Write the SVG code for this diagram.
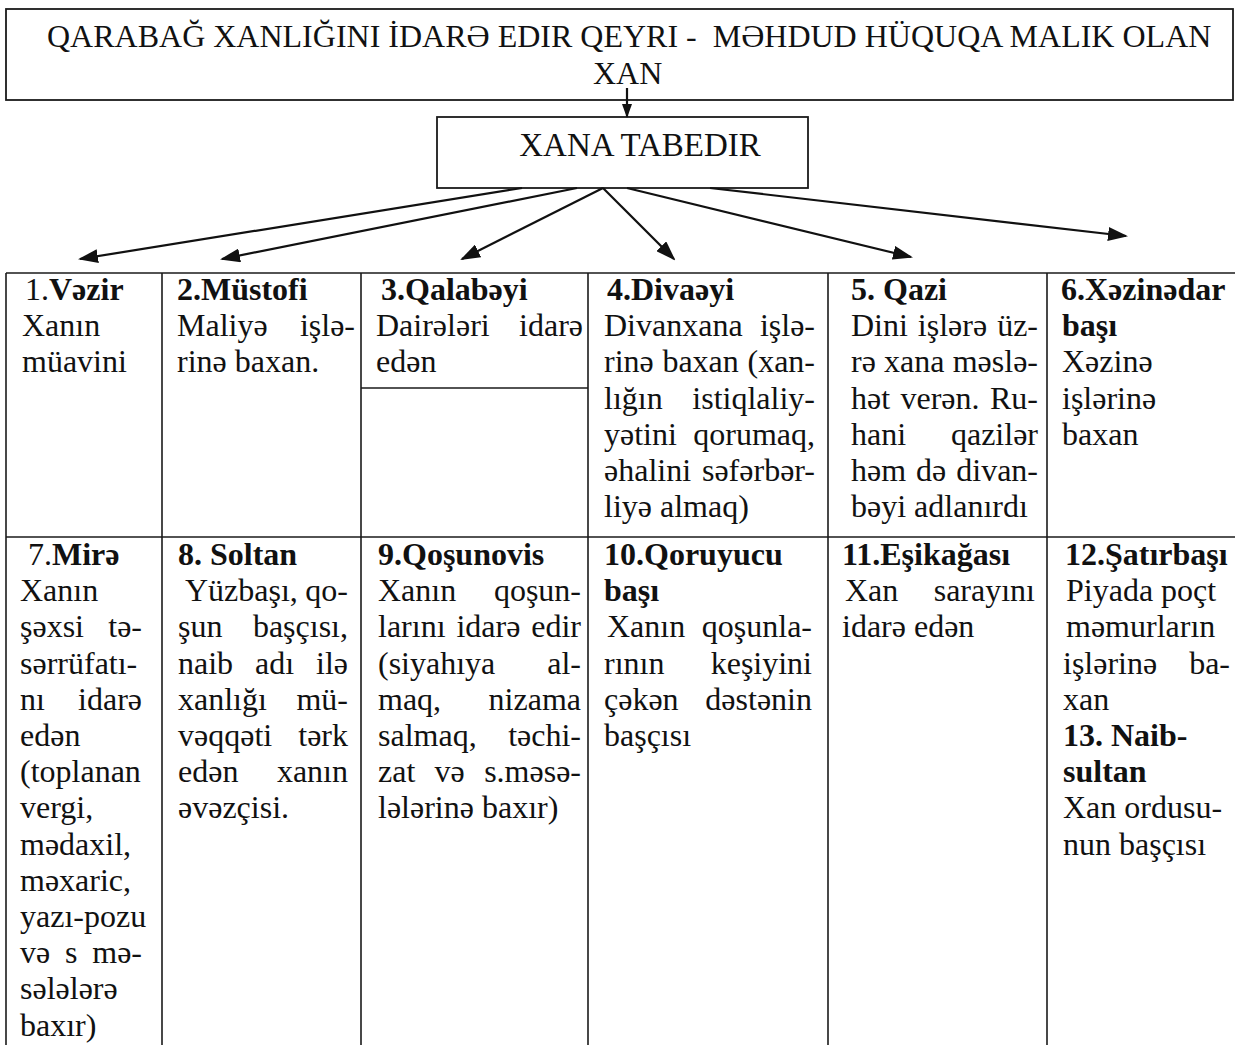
<svg xmlns="http://www.w3.org/2000/svg" width="1235" height="1045" viewBox="0 0 1235 1045">
<style>
.t{font-family:"Liberation Serif","Times New Roman",serif;font-size:32px;fill:#111}
.b{font-weight:bold}
.e{text-anchor:end}
.m{text-anchor:middle}
.ln{stroke:#1a1a1a;stroke-width:1.6;fill:none}
.bx{stroke:#1a1a1a;stroke-width:1.8;fill:#fff}
.cn{stroke:#111;stroke-width:2.2;fill:none}
</style>
<defs>
<marker id="ah" markerWidth="20" markerHeight="14" refX="18" refY="7" orient="auto" markerUnits="userSpaceOnUse"><path d="M0,0 L20,7 L0,14 z" fill="#111"/></marker>
<marker id="ahs" markerWidth="14" markerHeight="10" refX="13" refY="5" orient="auto" markerUnits="userSpaceOnUse"><path d="M0,0 L14,5 L0,10 z" fill="#111"/></marker>
</defs>
<rect width="1235" height="1045" fill="#fff"/>

<g id="title">
<rect class="bx" x="6" y="9" width="1227" height="91"/>
<text class="t" x="47" y="47" xml:space="preserve">QARABAĞ XANLIĞINI İDARƏ EDIR QEYRI -  MƏHDUD HÜQUQA MALIK OLAN</text>
<text class="t" x="593" y="84">XAN</text>
</g>

<g id="xana">
<rect class="bx" x="437" y="117" width="371" height="71"/>
<text class="t m" x="640" y="156" style="font-size:33px">XANA TABEDIR</text>
</g>

<g id="connectors">
<line class="cn" x1="627" y1="88" x2="627" y2="117" marker-end="url(#ahs)"/>
<line class="cn" x1="522" y1="188" x2="80" y2="259" marker-end="url(#ah)"/>
<line class="cn" x1="577" y1="188" x2="222" y2="259" marker-end="url(#ah)"/>
<line class="cn" x1="603" y1="188" x2="462" y2="259" marker-end="url(#ah)"/>
<line class="cn" x1="603" y1="188" x2="674" y2="259" marker-end="url(#ah)"/>
<line class="cn" x1="627" y1="188" x2="911" y2="257" marker-end="url(#ah)"/>
<line class="cn" x1="710" y1="188" x2="1126" y2="236" marker-end="url(#ah)"/>
</g>

<g id="table-grid">
<line class="ln" x1="6" y1="273" x2="1235" y2="273"/>
<line class="ln" x1="6" y1="537" x2="1235" y2="537"/>
<line class="ln" x1="6" y1="273" x2="6" y2="1045"/>
<line class="ln" x1="162" y1="273" x2="162" y2="1045"/>
<line class="ln" x1="361" y1="273" x2="361" y2="1045"/>
<line class="ln" x1="588" y1="273" x2="588" y2="1045"/>
<line class="ln" x1="828" y1="273" x2="828" y2="1045"/>
<line class="ln" x1="1047" y1="273" x2="1047" y2="1045"/>
<line class="ln" x1="361" y1="388" x2="588" y2="388"/>
</g>

<g id="cell-1">
<text class="t" x="25" y="300">1.<tspan class="b">Vəzir</tspan></text>
<text class="t" x="22" y="336.2">Xanın</text>
<text class="t" x="22" y="372.4">müavini</text>
</g>

<g id="cell-2">
<text class="t b" x="177" y="300">2.Müstofi</text>
<text class="t" x="177" y="336.2">Maliyə</text><text class="t e" x="355" y="336.2">işlə-</text>
<text class="t" x="177" y="372.4">rinə baxan.</text>
</g>

<g id="cell-3">
<text class="t b" x="381" y="300">3.Qalabəyi</text>
<text class="t" x="376" y="336.2">Dairələri</text><text class="t e" x="583" y="336.2">idarə</text>
<text class="t" x="376" y="372.4">edən</text>
</g>

<g id="cell-4">
<text class="t b" x="607" y="300">4.Divaəyi</text>
<text class="t" x="604" y="336.2">Divanxana</text><text class="t e" x="815" y="336.2">işlə-</text>
<text class="t" x="604" y="372.4">rinə</text><text class="t m" x="700.6" y="372.4">baxan</text><text class="t e" x="815" y="372.4">(xan-</text>
<text class="t" x="604" y="408.6">lığın</text><text class="t e" x="815" y="408.6">istiqlaliy-</text>
<text class="t" x="604" y="444.8">yətini</text><text class="t e" x="815" y="444.8">qorumaq,</text>
<text class="t" x="604" y="481">əhalini</text><text class="t e" x="815" y="481">səfərbər-</text>
<text class="t" x="604" y="517.2">liyə almaq)</text>
</g>

<g id="cell-5">
<text class="t b" x="851" y="300">5. Qazi</text>
<text class="t" x="851" y="336.2">Dini</text><text class="t m" x="952.5" y="336.2">işlərə</text><text class="t e" x="1038" y="336.2">üz-</text>
<text class="t" x="851" y="372.4">rə</text><text class="t m" x="914.3" y="372.4">xana</text><text class="t e" x="1038" y="372.4">məslə-</text>
<text class="t" x="851" y="408.6">hət</text><text class="t m" x="940" y="408.6">verən.</text><text class="t e" x="1038" y="408.6">Ru-</text>
<text class="t" x="851" y="444.8">hani</text><text class="t e" x="1038" y="444.8">qazilər</text>
<text class="t" x="851" y="481">həm</text><text class="t m" x="931.2" y="481">də</text><text class="t e" x="1038" y="481">divan-</text>
<text class="t" x="851" y="517.2">bəyi adlanırdı</text>
</g>

<g id="cell-6">
<text class="t b" x="1061" y="300">6.Xəzinədar</text>
<text class="t b" x="1062" y="336.2">başı</text>
<text class="t" x="1062" y="372.4">Xəzinə</text>
<text class="t" x="1062" y="408.6">işlərinə</text>
<text class="t" x="1062" y="444.8">baxan</text>
</g>

<g id="cell-7">
<text class="t" x="28" y="565">7.<tspan class="b">Mirə</tspan></text>
<text class="t" x="20" y="601.2">Xanın</text>
<text class="t" x="20" y="637.4">şəxsi</text><text class="t e" x="142" y="637.4">tə-</text>
<text class="t" x="20" y="673.6">sərrüfatı-</text>
<text class="t" x="20" y="709.8">nı</text><text class="t e" x="142" y="709.8">idarə</text>
<text class="t" x="20" y="746">edən</text>
<text class="t" x="20" y="782.2">(toplanan</text>
<text class="t" x="20" y="818.4">vergi,</text>
<text class="t" x="20" y="854.6">mədaxil,</text>
<text class="t" x="20" y="890.8">məxaric,</text>
<text class="t" x="20" y="927">yazı-pozu</text>
<text class="t" x="20" y="963.2">və</text><text class="t m" x="71.2" y="963.2">s</text><text class="t e" x="142" y="963.2">mə-</text>
<text class="t" x="20" y="999.4">sələlərə</text>
<text class="t" x="20" y="1035.6">baxır)</text>
</g>

<g id="cell-8">
<text class="t b" x="178" y="565">8. Soltan</text>
<text class="t" x="185" y="601.2">Yüzbaşı,</text><text class="t e" x="348" y="601.2">qo-</text>
<text class="t" x="178" y="637.4">şun</text><text class="t e" x="348" y="637.4">başçısı,</text>
<text class="t" x="178" y="673.6">naib</text><text class="t m" x="274.6" y="673.6">adı</text><text class="t e" x="348" y="673.6">ilə</text>
<text class="t" x="178" y="709.8">xanlığı</text><text class="t e" x="348" y="709.8">mü-</text>
<text class="t" x="178" y="746">vəqqəti</text><text class="t e" x="348" y="746">tərk</text>
<text class="t" x="178" y="782.2">edən</text><text class="t e" x="348" y="782.2">xanın</text>
<text class="t" x="178" y="818.4">əvəzçisi.</text>
</g>

<g id="cell-9">
<text class="t b" x="378" y="565">9.Qoşunovis</text>
<text class="t" x="378" y="601.2">Xanın</text><text class="t e" x="581" y="601.2">qoşun-</text>
<text class="t" x="378" y="637.4">larını</text><text class="t m" x="488.4" y="637.4">idarə</text><text class="t e" x="581" y="637.4">edir</text>
<text class="t" x="378" y="673.6">(siyahıya</text><text class="t e" x="581" y="673.6">al-</text>
<text class="t" x="378" y="709.8">maq,</text><text class="t e" x="581" y="709.8">nizama</text>
<text class="t" x="378" y="746">salmaq,</text><text class="t e" x="581" y="746">təchi-</text>
<text class="t" x="378" y="782.2">zat</text><text class="t m" x="449.7" y="782.2">və</text><text class="t e" x="581" y="782.2">s.məsə-</text>
<text class="t" x="378" y="818.4">lələrinə baxır)</text>
</g>

<g id="cell-10">
<text class="t b" x="604" y="565">10.Qoruyucu</text>
<text class="t b" x="604" y="601.2">başı</text>
<text class="t" x="607" y="637.4">Xanın</text><text class="t e" x="812" y="637.4">qoşunla-</text>
<text class="t" x="604" y="673.6">rının</text><text class="t e" x="812" y="673.6">keşiyini</text>
<text class="t" x="604" y="709.8">çəkən</text><text class="t e" x="812" y="709.8">dəstənin</text>
<text class="t" x="604" y="746">başçısı</text>
</g>

<g id="cell-11">
<text class="t b" x="842" y="565">11.Eşikağası</text>
<text class="t" x="845" y="601.2">Xan</text><text class="t e" x="1035" y="601.2">sarayını</text>
<text class="t" x="842" y="637.4">idarə edən</text>
</g>

<g id="cell-12">
<text class="t b" x="1065" y="565">12.Şatırbaşı</text>
<text class="t" x="1066" y="601.2">Piyada poçt</text>
<text class="t" x="1066" y="637.4">məmurların</text>
<text class="t" x="1063" y="673.6">işlərinə</text><text class="t e" x="1230" y="673.6">ba-</text>
<text class="t" x="1063" y="709.8">xan</text>
<text class="t b" x="1063" y="746">13. Naib-</text>
<text class="t b" x="1063" y="782.2">sultan</text>
<text class="t" x="1063" y="818.4">Xan ordusu-</text>
<text class="t" x="1063" y="854.6">nun başçısı</text>
</g>
</svg>
